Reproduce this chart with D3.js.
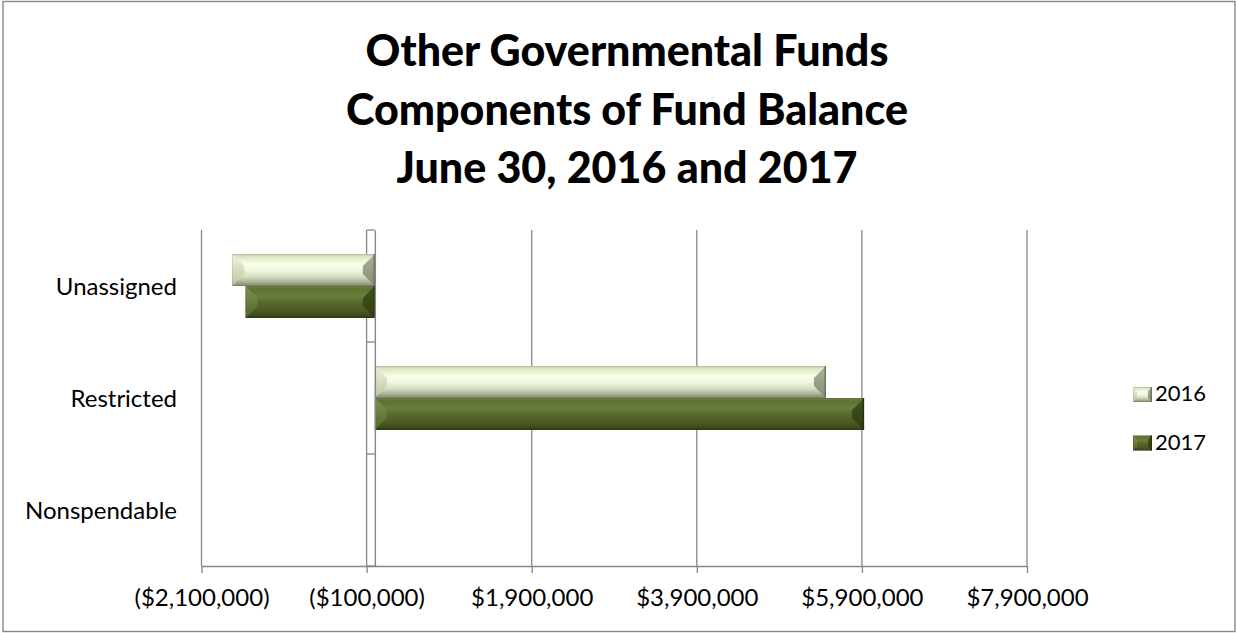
<!DOCTYPE html>
<html>
<head>
<meta charset="utf-8">
<script src="https://cdn.jsdelivr.net/npm/d3@7"></script>
<style>
  html, body { margin: 0; padding: 0; background: #fff; }
  svg { display: block; }
  text { font-family: Lato, "Open Sans", sans-serif; fill: #000; }
</style>
</head>
<body>
<svg id="chart" width="1236" height="633"></svg>
<script>
// Fund balance components (dollars), one array per fiscal year
const categories = ["Nonspendable", "Restricted", "Unassigned"];
const seriesNames = ["2016", "2017"];
const values2016 = [0, 5465000, -1727000];
const values2017 = [0, 5926000, -1565000];
const tickValues = [-2100000, -100000, 1900000, 3900000, 5900000, 7900000];
const titleLines = ["Other Governmental Funds", "Components of Fund Balance", "June 30, 2016 and 2017"];

const plot = { left: 201.5, right: 1027, top: 230, bottom: 566 };

const svg = d3.select("#chart");

// outer chart frame
svg.append("rect")
  .attr("x", 3).attr("y", 1.5).attr("width", 1232).attr("height", 630)
  .attr("fill", "#fff").attr("stroke", "#878787").attr("stroke-width", 1.4);

// title
const title = svg.append("text")
  .attr("text-anchor", "middle")
  .attr("font-weight", "900")
  .attr("font-size", 43);
titleLines.forEach((t, i) => {
  title.append("tspan").attr("x", 627).attr("y", 66 + i * 58.5).text(t);
});

const x = d3.scaleLinear()
  .domain([tickValues[0], tickValues[tickValues.length - 1]])
  .range([plot.left, plot.right]);

// first category sits at the bottom of the bar chart
const y = d3.scaleBand()
  .domain(categories.slice().reverse())
  .range([plot.top, plot.bottom])
  .padding(0);

const ySeries = d3.scaleBand()
  .domain(seriesNames)
  .range([0, y.bandwidth()])
  .paddingInner(0)
  .paddingOuter(0.75);

const fmt = v => {
  const s = "$" + d3.format(",")(Math.abs(v));
  return v < 0 ? "(" + s + ")" : s;
};

const gray = "#878787";

// vertical gridlines
svg.append("g").selectAll("line")
  .data(tickValues)
  .join("line")
  .attr("x1", d => x(d)).attr("x2", d => x(d))
  .attr("y1", plot.top).attr("y2", plot.bottom)
  .attr("stroke", gray).attr("stroke-width", 1.3);

// bottom value axis
const xAxis = d3.axisBottom(x)
  .tickValues(tickValues)
  .tickFormat(fmt)
  .tickSize(7)
  .tickSizeOuter(0)
  .tickPadding(16);
const gx = svg.append("g")
  .attr("transform", `translate(0,${plot.bottom})`)
  .call(xAxis);
gx.select(".domain").attr("stroke", gray).attr("stroke-width", 1.4);
gx.selectAll(".tick line").attr("stroke", gray).attr("stroke-width", 1.3);
gx.selectAll(".tick text")
  .attr("font-family", "Lato, sans-serif")
  .attr("font-size", 24)
  .attr("fill", "#000");

// gradients for beveled bars
const defs = svg.append("defs");
const palettes = {
  "2016": {
    body: [[0, "#c6d3aa"], [0.1, "#dde8c6"], [0.32, "#f9feec"], [0.5, "#f1f6e0"], [0.7, "#d7dfc2"], [0.86, "#adb698"], [1, "#7d876c"]],
    left: "#edf4df", leftLow: "#bac69f",
    right: "#a9b296", rightLow: "#858e73",
    edge: "#6a725a"
  },
  "2017": {
    body: [[0, "#73884a"], [0.1, "#5d7230"], [0.32, "#6a7f3e"], [0.5, "#57692b"], [0.75, "#4b5d24"], [0.9, "#3e4e1b"], [1, "#2c3813"]],
    left: "#7c9252", leftLow: "#52662a",
    right: "#42531d", rightLow: "#303d14",
    edge: "#28310f"
  }
};
Object.entries(palettes).forEach(([key, p]) => {
  const g = defs.append("linearGradient")
    .attr("id", "body" + key)
    .attr("x1", 0).attr("y1", 0).attr("x2", 0).attr("y2", 1);
  p.body.forEach(([o, c]) => g.append("stop").attr("offset", o).attr("stop-color", c));
  const gl = defs.append("linearGradient")
    .attr("id", "left" + key).attr("x1", 0).attr("y1", 0).attr("x2", 0).attr("y2", 1);
  gl.append("stop").attr("offset", 0).attr("stop-color", p.left);
  gl.append("stop").attr("offset", 1).attr("stop-color", p.leftLow);
  const gr = defs.append("linearGradient")
    .attr("id", "right" + key).attr("x1", 0).attr("y1", 0).attr("x2", 0).attr("y2", 1);
  gr.append("stop").attr("offset", 0).attr("stop-color", p.right);
  gr.append("stop").attr("offset", 1).attr("stop-color", p.rightLow);
});

// draws one beveled bar between x0..x1, y0..y1
function bevelBar(g, key, x0, x1, y0, y1, b) {
  const w = x1 - x0;
  if (w < 0.5) return;
  b = Math.min(b, w / 2, (y1 - y0) / 2);
  const p = palettes[key];
  g.append("rect")
    .attr("x", x0).attr("y", y0).attr("width", w).attr("height", y1 - y0)
    .attr("fill", `url(#body${key})`);
  g.append("polygon")
    .attr("points", [[x0, y0], [x0 + b, y0 + b], [x0 + b, y1 - b], [x0, y1]].join(" "))
    .attr("fill", `url(#left${key})`);
  g.append("polygon")
    .attr("points", [[x1, y0], [x1 - b, y0 + b], [x1 - b, y1 - b], [x1, y1]].join(" "))
    .attr("fill", `url(#right${key})`);
  g.append("line")
    .attr("x1", x1 - 0.7).attr("x2", x1 - 0.7).attr("y1", y0).attr("y2", y1)
    .attr("stroke", p.edge).attr("stroke-width", 1.4);
  g.append("rect")
    .attr("x", x0 + 0.3).attr("y", y0 + 0.3).attr("width", w - 0.6).attr("height", y1 - y0 - 0.6)
    .attr("fill", "none").attr("stroke", p.edge).attr("stroke-opacity", 0.35).attr("stroke-width", 0.6);
}

const seriesData = [
  { name: "2016", values: values2016 },
  { name: "2017", values: values2017 }
];

const barsG = svg.append("g");
seriesData.forEach(s => {
  s.values.forEach((v, i) => {
    const cat = categories[i];
    const y0 = y(cat) + ySeries(s.name);
    const y1 = y0 + ySeries.bandwidth();
    const xa = x(Math.min(0, v)), xb = x(Math.max(0, v));
    bevelBar(barsG, s.name, xa, xb, y0, y1, 12);
  });
});

// category axis at zero with ticks pointing left
const yAxis = d3.axisLeft(y)
  .tickValues([])
  .tickSizeOuter(0);
const gy = svg.append("g")
  .attr("transform", `translate(${x(0)},0)`)
  .call(yAxis);
gy.select(".domain").attr("stroke", gray).attr("stroke-width", 1.4);
const boundaries = categories.map(c => y(c)).concat([plot.bottom]);
gy.selectAll("line.cat")
  .data(boundaries)
  .join("line")
  .attr("class", "cat")
  .attr("x1", -8).attr("x2", 0)
  .attr("y1", d => d).attr("y2", d => d)
  .attr("stroke", gray).attr("stroke-width", 1.3);

// category labels on the left of the plot
svg.append("g").selectAll("text")
  .data(categories)
  .join("text")
  .attr("x", 177)
  .attr("y", d => y(d) + y.bandwidth() / 2 + 8.5)
  .attr("text-anchor", "end")
  .attr("font-size", 24)
  .text(d => d);

// legend
const legend = svg.append("g");
seriesNames.forEach((name, i) => {
  const ly = 387 + i * 48.5;
  bevelBar(legend, name, 1133, 1152, ly, ly + 15, 4);
  legend.append("text")
    .attr("x", 1155)
    .attr("y", ly + 14)
    .attr("font-size", 22)
    .text(name);
});
</script>
</body>
</html>
